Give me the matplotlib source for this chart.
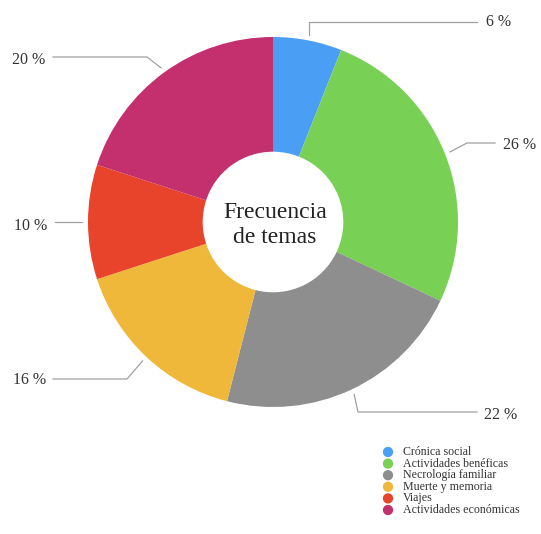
import numpy as np
import matplotlib
matplotlib.use("Agg")
import matplotlib.pyplot as plt

categories = ["Crónica social", "Actividades benéficas", "Necrología familiar",
              "Muerte y memoria", "Viajes", "Actividades económicas"]
values = [6, 26, 22, 16, 10, 20]
labels = ["6 %", "26 %", "22 %", "16 %", "10 %", "20 %"]
colors = ["#4a9ff5", "#78d154", "#8e8e8e", "#f0b83a", "#e8432b", "#c42f6e"]
center_title = "Frecuencia\nde temas"

W, H = 541, 534
fig = plt.figure(figsize=(W / 100, H / 100), dpi=100)
ax = fig.add_axes([0, 0, 1, 1])

serif = ["Liberation Serif", "DejaVu Serif"]
plt.rcParams["font.family"] = serif

cx, cy, R = 273, H - 222, 185
wedges, _ = ax.pie(values, colors=colors, startangle=90, counterclock=False,
                   radius=R, center=(cx, cy), frame=True,
                   wedgeprops=dict(width=R * 0.62, linewidth=0))
ax.set_xlim(0, W)
ax.set_ylim(0, H)
ax.set_aspect("auto")
ax.axis("off")

ax.text(cx + 2, cy - 3, center_title, ha="center", va="center", fontsize=17,
        family=serif, color="#222222", linespacing=1.2)

# label layout: (elbow_x or None, elbow_y or None, end_x, text_x, text_y)
layout = [
    (None, 22, 477, 499, 22),
    (467, 143, 495, 520, 145),
    (358, 412, 477, 501, 415),
    (127, 379, 53, 30, 380),
    (None, None, 55, 31, 226),
    (147, 57, 53, 29, 60),
]
total = sum(values)
start = 90.0
for v, lab, (ex, ey, endx, tx, ty) in zip(values, labels, layout):
    ang = np.deg2rad(start - v / total * 360 / 2)
    start -= v / total * 360
    px = cx + R * 1.03 * np.cos(ang)
    py = cy + R * 1.03 * np.sin(ang)
    if ex is None:
        ex = px
    ey_d = py if ey is None else H - ey
    ax.plot([px, ex, endx], [py, ey_d, ey_d], color="#a0a0a0", lw=0.9)
    ax.text(tx, H - ty, lab, ha="center", va="center", fontsize=11.5,
            family=serif, color="#333333")

# legend
lx, ly0, dy = 388, 452, 11.6
for i, (c, name) in enumerate(zip(colors, categories)):
    y = H - (ly0 + i * dy)
    ax.scatter([lx], [y], s=55, color=c, edgecolors="none", clip_on=False)
    ax.text(lx + 15, y, name, ha="left", va="center", fontsize=8.6,
            family=serif, color="#333333")

fig.savefig("out.png", dpi=100)
